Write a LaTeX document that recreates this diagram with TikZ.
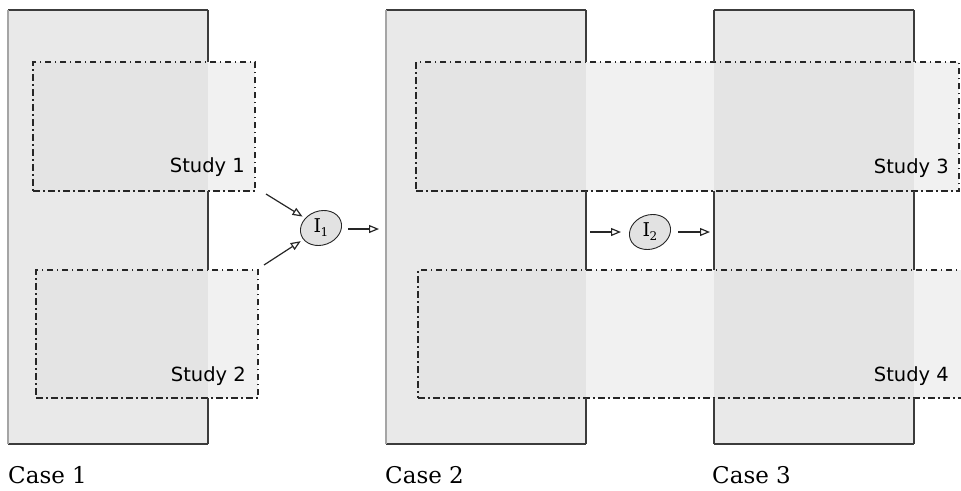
\documentclass[tikz,border=0pt]{standalone}
\usepackage{fontspec}
\newfontfamily\studyfont{DejaVu Sans}
\newfontfamily\casefont{DejaVu Serif}
\usetikzlibrary{arrows.meta,shapes.geometric}
\definecolor{casefill}{RGB}{233,233,233}
\definecolor{studyfill}{RGB}{222,222,222}
\definecolor{edgedark}{RGB}{60,60,60}
\definecolor{edgelight}{RGB}{165,165,165}
\definecolor{ellfill}{RGB}{226,226,226}
\newcommand{\interlabel}[1]{\rotatebox{-20}{\casefont\fontsize{19}{21}\selectfont I\kern-0.5pt\raisebox{-4pt}{\fontsize{12}{12}\selectfont #1}}}
\begin{document}
\begin{tikzpicture}[x=1pt,y=-1pt,
  casebox/.style={fill=casefill,draw=none,inner sep=0pt,outer sep=0pt,anchor=north west},
  studybox/.style={fill=studyfill,fill opacity=0.43,draw=black!85,draw opacity=1,line width=1.4pt,
    dash pattern=on 6.5pt off 3.5pt on 1.5pt off 3.5pt,inner sep=0pt,outer sep=0pt,anchor=north west},
  dk/.style={draw=edgedark,line width=1.2pt},
  lt/.style={draw=edgelight,line width=1.2pt},
  studylabel/.style={anchor=base east,inner sep=0pt,font=\studyfont\fontsize{19.5}{22}\selectfont},
  caselabel/.style={anchor=base west,inner sep=0pt,font=\casefont\fontsize{23}{26}\selectfont},
  inter/.style={ellipse,draw=black!85,fill=ellfill,line width=0.9pt,minimum width=42pt,minimum height=34pt,inner sep=0pt,rotate=20},
  arr/.style={-{Triangle[open,length=10pt,width=8pt]},line width=1.2pt,draw=black!85}
]
\useasboundingbox (0,0) rectangle (961,490);
% cases
\node[casebox,minimum width=200pt,minimum height=434pt] (c1) at (8,10) {};
\node[casebox,minimum width=200pt,minimum height=434pt] (c2) at (386,10) {};
\node[casebox,minimum width=200pt,minimum height=434pt] (c3) at (714,10) {};
% studies
\node[studybox,minimum width=222pt,minimum height=129pt] (s1) at (33,62) {};
\node[studybox,minimum width=222pt,minimum height=128pt] (s2) at (36,270) {};
\node[studybox,minimum width=543pt,minimum height=129pt] (s3) at (416,62) {};
\node[studybox,minimum width=548pt,minimum height=128pt] (s4) at (418,270) {};
% case edges
\foreach \c in {c1,c2,c3}{
  \draw[dk] (\c.north west) -- (\c.north east);
  \draw[dk] (\c.south west) -- (\c.south east);
}
\draw[lt] (c1.north west) -- (c1.south west);
\draw[lt] (c2.north west) -- (c2.south west);
\draw[dk] (c1.north east) -- (c1.north east |- s1.north);
\draw[dk] (c1.north east |- s1.south) -- (c1.north east |- s2.north);
\draw[dk] (c1.north east |- s2.south) -- (c1.south east);
\draw[dk] (c2.north east) -- (c2.north east |- s3.north);
\draw[dk] (c2.north east |- s3.south) -- (c2.north east |- s4.north);
\draw[dk] (c2.north east |- s4.south) -- (c2.south east);
\foreach \a in {north west,north east}{
  \draw[dk] (c3.\a) -- (c3.\a |- s3.north);
  \draw[dk] (c3.\a |- s3.south) -- (c3.\a |- s4.north);
  \draw[dk] (c3.\a |- s4.south) -- (c3.\a |- c3.south);
}
% labels
\node[studylabel] (l1) at (245,172) {Study 1};
\node[studylabel] (l2) at (246,381) {Study 2};
\node[studylabel] (l3) at (949,173) {Study 3};
\node[studylabel] (l4) at (949,381) {Study 4};
\node[caselabel] (k1) at (8,483) {Case 1};
\node[caselabel] (k2) at (385,483) {Case 2};
\node[caselabel] (k3) at (712,483) {Case 3};
% intermediates
\node[inter] (i1) at (321,228) {\interlabel{1}};
\node[inter] (i2) at (650,232) {\interlabel{2}};
\coordinate (a1) at (266,194);
\coordinate (a2) at (264,265);
\coordinate (b1) at (348,229);
\coordinate (b2) at (379,229);
\coordinate (d1) at (590,232);
\coordinate (d2) at (621,232);
\coordinate (e1) at (678,232);
\coordinate (e2) at (710,232);
\draw[arr,shorten >=3pt] (a1) -- (i1);
\draw[arr,shorten >=3pt] (a2) -- (i1);
\draw[arr] (b1) -- (b2);
\draw[arr] (d1) -- (d2);
\draw[arr] (e1) -- (e2);
\end{tikzpicture}
\end{document}
